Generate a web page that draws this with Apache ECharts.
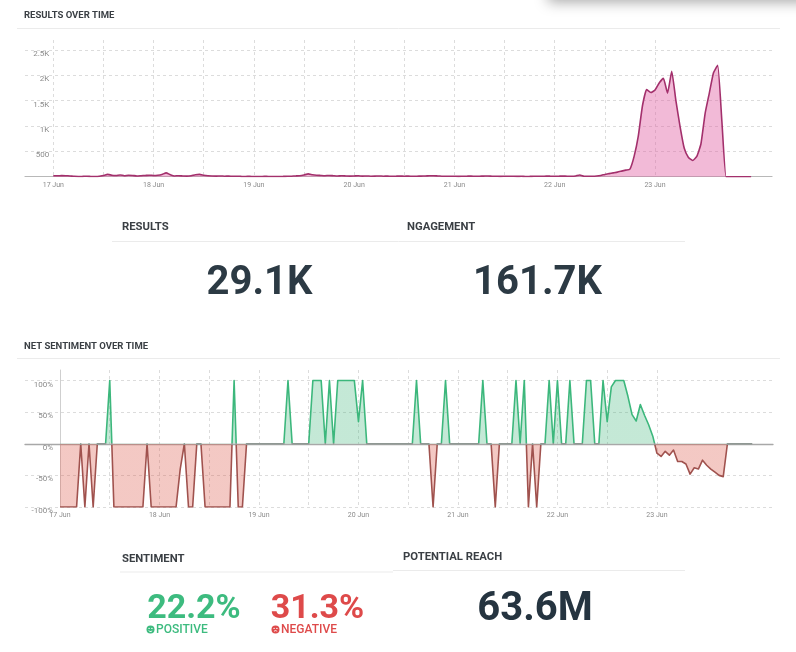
<!DOCTYPE html>
<html>
<head>
<meta charset="utf-8">
<script src="https://cdn.jsdelivr.net/npm/echarts@6/dist/echarts.min.js"></script>
<style>
html,body{margin:0;padding:0;background:#fff;}
#c{width:796px;height:652px;}
</style>
</head>
<body>
<div id="c"></div>
<script>
// ---- tick labels ----
const dayLabels = ['17 Jun', '18 Jun', '19 Jun', '20 Jun', '21 Jun', '22 Jun', '23 Jun'];
const resultsTickValues = [500, 1000, 1500, 2000, 2500];
const resultsTickLabels = ['500', '1K', '1.5K', '2K', '2.5K'];
const sentimentTickValues = [-100, -50, 0, 50, 100];
const sentimentTickLabels = ['-100%', '-50%', '0%', '50%', '100%'];

// ---- results over time (hourly counts) ----
const results17 = [20,18,22,20,15,8,5,6,10,5,4,8,25,45,30,25,35,20,30,25,15,20,25,30];
const results18 = [25,30,45,75,40,15,20,15,12,20,40,45,30,20,15,12,15,10,12,8,10,6,5,6];
const results19 = [4,5,5,6,4,5,5,6,8,10,15,20,35,55,40,30,25,20,25,20,15,18,15,12];
const results20 = [15,18,12,15,10,12,15,10,12,8,10,12,10,12,8,10,12,15,18,20,15,10,8,10];
const results21 = [8,6,8,10,12,8,10,12,15,10,8,6,8,10,8,6,8,5,6,8,10,8,12,10];
const results22 = [8,10,12,10,10,15,35,10,8,10,15,25,45,60,75,90,110,130,150,400,800,1400,1720,1660];
const results23 = [1710,1850,1940,1650,2080,1500,990,560,380,320,400,650,1250,1650,2050,2200,1100,0,0,0,0,0,0,0];

// ---- net sentiment over time (hourly %) ----
const sentiment17 = [-100,-100,-100,-100,-100,0,-100,0,-100,0,0,0,100,-100,-100,-100,-100,-100,-100,-100,-100,0,-100,-100];
const sentiment18 = [-100,-100,-100,-100,-100,-40,0,-100,-100,0,0,-100,-100,-100,-100,-100,-100,-100,100,-100,-100,0,0,0];
const sentiment19 = [0,0,0,0,0,0,0,100,0,0,0,0,0,100,100,100,0,100,0,100,100,100,100,100];
const sentiment20 = [35,100,0,0,0,0,0,0,0,0,0,0,0,0,100,0,0,0,-100,0,0,100,0,0];
const sentiment21 = [0,0,0,0,0,0,100,0,0,-100,0,0,0,0,100,0,100,-100,0,-100,0,0,100,0];
const sentiment22 = [100,0,0,100,0,0,0,100,100,0,0,100,35,90,100,100,100,75,46,36,62,45,30,12];
const sentiment23 = [-15,-20,-12,-18,-10,-28,-28,-32,-48,-38,-40,-26,-34,-40,-45,-50,-52,0,0,0,0,0,0,0];

// ---- KPI values ----
const kpiResults = '29.1K';
const kpiEngagement = '161.7K';
const kpiPositive = '22.2%';
const kpiNegative = '31.3%';
const kpiReach = '63.6M';

const results = [].concat(results17, results18, results19, results20, results21, results22, results23);
const sentiment = [].concat(sentiment17, sentiment18, sentiment19, sentiment20, sentiment21, sentiment22, sentiment23);
const resultsData = results.map((v, i) => [i, v]);
const sentimentData = sentiment.map((v, i) => [i, v]);

const FONT = 'Roboto, "Noto Sans", sans-serif';
const labelColor = '#8a8a8a';
const gridDash = { color: '#dcdcdc', type: [3, 3], width: 1 };

function dayFmt(v) { return (v % 24 === 0 && dayLabels[v / 24]) ? dayLabels[v / 24] : ''; }
function resFmt(v) { const i = resultsTickValues.indexOf(v); return i >= 0 ? resultsTickLabels[i] : ''; }
function senFmt(v) { const i = sentimentTickValues.indexOf(v); return i >= 0 ? sentimentTickLabels[i] : ''; }

const chart = echarts.init(document.getElementById('c'), null, { renderer: 'canvas' });

// plot geometry
const W = 796, H = 652;
const xMaxHours = 172, gridLinesEnd = 144;
const topLeft = 53.3, topRight = 24, botLeft = 60, botRight = 23;
const topBase = 176.7, topTop = 50, topAxisTop = 40;
const botBottom = 507, botTop = 380.5, botAxisTop = 370;
const topMax = 2500 * (topBase - topAxisTop) / (topBase - topTop);
const botMax = 200 * (botBottom - botAxisTop) / (botBottom - botTop) - 100;
const zeroY = botTop + (botBottom - botTop) / 2;
const topVRight = W - topLeft - (W - topLeft - topRight) * gridLinesEnd / xMaxHours;
const botVRight = W - botLeft - (W - botLeft - botRight) * gridLinesEnd / xMaxHours;

const G = echarts.graphic;
const lineGrad = new G.LinearGradient(0, zeroY - 50, 0, zeroY + 50, [
  { offset: 0, color: '#3cb77c' }, { offset: 0.488, color: '#3cb77c' },
  { offset: 0.488, color: '#8f9893' }, { offset: 0.512, color: '#8f9893' },
  { offset: 0.512, color: '#a0524e' }, { offset: 1, color: '#a0524e' }
], true);
const areaGrad = new G.LinearGradient(0, zeroY - 50, 0, zeroY + 50, [
  { offset: 0, color: 'rgba(60,180,120,0.30)' }, { offset: 0.5, color: 'rgba(60,180,120,0.30)' },
  { offset: 0.5, color: 'rgba(220,90,75,0.33)' }, { offset: 1, color: 'rgba(220,90,75,0.33)' }
], true);

function txt(x, y, text, size, color, weight, align) {
  return { type: 'text', x: x, y: y, silent: true, style: {
    text: text, fill: color, fontSize: size, fontWeight: weight || 'bold', fontFamily: FONT,
    align: align || 'left', verticalAlign: 'middle' } };
}
function hline(x1, x2, y, c) {
  return { type: 'line', silent: true, shape: { x1: x1, y1: y, x2: x2, y2: y }, style: { stroke: c || '#ebebeb', lineWidth: 1 } };
}
function face(cx, cy, color, happy) {
  return { type: 'group', x: cx, y: cy, silent: true, children: [
    { type: 'circle', shape: { cx: 0, cy: 0, r: 4 }, style: { fill: color } },
    { type: 'circle', shape: { cx: -1.4, cy: -1.1, r: 0.7 }, style: { fill: '#fff' } },
    { type: 'circle', shape: { cx: 1.4, cy: -1.1, r: 0.7 }, style: { fill: '#fff' } },
    happy
      ? { type: 'arc', shape: { cx: 0, cy: 0.2, r: 1.9, startAngle: 0.15 * Math.PI, endAngle: 0.85 * Math.PI }, style: { stroke: '#fff', lineWidth: 0.9, fill: 'none' } }
      : { type: 'arc', shape: { cx: 0, cy: 3.0, r: 1.9, startAngle: 1.2 * Math.PI, endAngle: 1.8 * Math.PI }, style: { stroke: '#fff', lineWidth: 0.9, fill: 'none' } }
  ] };
}
const hidden = { axisLine: { show: false }, axisTick: { show: false }, axisLabel: { show: false }, splitLine: { show: false } };

const option = {
  animation: false,
  backgroundColor: '#fff',
  textStyle: { fontFamily: FONT },
  grid: [
    { left: 25, right: topRight, top: topTop, bottom: H - topBase },
    { left: topLeft, right: topRight, top: topAxisTop, bottom: H - topBase },
    { left: 25, right: botRight, top: botTop, bottom: H - botBottom },
    { left: botLeft, right: botRight, top: botAxisTop, bottom: H - botBottom },
    { left: topLeft, right: topVRight, top: topAxisTop, bottom: H - topBase },
    { left: botLeft, right: botVRight, top: botAxisTop, bottom: H - botBottom }
  ],
  xAxis: [
    { gridIndex: 0, type: 'value', min: 0, max: 1, axisLine: { show: true, lineStyle: { color: '#b8b8b8', width: 1.2 } },
      axisTick: { show: false }, axisLabel: { show: false }, splitLine: { show: false } },
    { gridIndex: 1, type: 'value', min: 0, max: xMaxHours, interval: 12,
      axisLine: { show: false }, axisTick: { show: false },
      axisLabel: { formatter: dayFmt, fontSize: 7, color: labelColor, margin: 5, showMaxLabel: false, fontFamily: FONT },
      splitLine: { show: false } },
    { gridIndex: 2, type: 'value', min: 0, max: 1, axisLine: { show: true, onZero: true, lineStyle: { color: '#a8a8a8', width: 1.3 } },
      axisTick: { show: false }, axisLabel: { show: false }, splitLine: { show: false } },
    { gridIndex: 3, type: 'value', min: 0, max: xMaxHours, interval: 12,
      axisLine: { show: false }, axisTick: { show: false },
      axisLabel: { formatter: dayFmt, fontSize: 7, color: labelColor, margin: 5, showMaxLabel: false, fontFamily: FONT },
      splitLine: { show: false } },
    { gridIndex: 4, type: 'value', min: 0, max: gridLinesEnd, interval: 12,
      axisLine: { show: false }, axisTick: { show: false }, axisLabel: { show: false },
      splitLine: { show: true, lineStyle: gridDash } },
    { gridIndex: 5, type: 'value', min: 0, max: gridLinesEnd, interval: 12,
      axisLine: { show: false }, axisTick: { show: false }, axisLabel: { show: false },
      splitLine: { show: true, lineStyle: gridDash, showMinLine: false } }
  ],
  yAxis: [
    { gridIndex: 0, type: 'value', min: 0, max: 2500, interval: 500,
      axisLine: { show: false }, axisTick: { show: false }, axisLabel: { show: false },
      splitLine: { show: true, lineStyle: gridDash, showMinLine: false } },
    { gridIndex: 1, type: 'value', min: 0, max: topMax, interval: 500,
      axisLine: { show: false }, axisTick: { show: false },
      axisLabel: { formatter: resFmt, fontSize: 8, color: labelColor, margin: 4, showMinLabel: false, showMaxLabel: false, verticalAlign: 'top', fontFamily: FONT },
      splitLine: { show: false } },
    { gridIndex: 2, type: 'value', min: -100, max: 100, interval: 50,
      axisLine: { show: false }, axisTick: { show: false }, axisLabel: { show: false },
      splitLine: { show: true, lineStyle: gridDash } },
    { gridIndex: 3, type: 'value', min: -100, max: botMax, interval: 50,
      axisLine: { show: true, lineStyle: { color: '#cfcfcf', width: 1 } }, axisTick: { show: false },
      axisLabel: { formatter: senFmt, fontSize: 8, color: labelColor, margin: 7, showMaxLabel: false, verticalAlign: 'top', fontFamily: FONT },
      splitLine: { show: false } },
    Object.assign({ gridIndex: 4, type: 'value', min: 0, max: 1 }, hidden),
    Object.assign({ gridIndex: 5, type: 'value', min: 0, max: 1 }, hidden)
  ],
  series: [
    { name: 'Results', type: 'line', xAxisIndex: 1, yAxisIndex: 1, data: resultsData,
      showSymbol: false, smooth: 0.15, z: 3,
      lineStyle: { color: '#a3306c', width: 1.6 },
      areaStyle: { color: 'rgba(225,90,160,0.42)', opacity: 1 } },
    { name: 'Net sentiment', type: 'line', xAxisIndex: 3, yAxisIndex: 3, data: sentimentData,
      showSymbol: false, smooth: false, z: 3,
      lineStyle: { color: lineGrad, width: 1.6, join: 'round' },
      areaStyle: { color: areaGrad, opacity: 1 } }
  ],
  graphic: [
    { type: 'rect', silent: true, shape: { x: 548, y: -40, width: 270, height: 38 },
      style: { fill: '#fff', shadowBlur: 14, shadowColor: 'rgba(0,0,0,0.35)', shadowOffsetY: 4 } },
    txt(24, 16, 'RESULTS OVER TIME', 9.5, '#3a3f44'),
    hline(17, 780, 28.5),
    txt(24, 346.5, 'NET SENTIMENT OVER TIME', 9.5, '#3a3f44'),
    hline(17, 780, 358.5),
    txt(122, 227, 'RESULTS', 11.3, '#3a3f44'),
    txt(407, 227, 'NGAGEMENT', 11.3, '#3a3f44'),
    hline(112, 685, 241.5),
    txt(259.5, 284, kpiResults, 40, '#2c3a44', 'bold', 'center'),
    txt(537.5, 284, kpiEngagement, 40, '#2c3a44', 'bold', 'center'),
    txt(122, 559, 'SENTIMENT', 11.3, '#3a3f44'),
    hline(120, 393, 572),
    txt(403, 557.5, 'POTENTIAL REACH', 11.3, '#3a3f44'),
    hline(393, 685, 570.5),
    txt(194, 609, kpiPositive, 34, '#3dbb7f', 'bold', 'center'),
    txt(317.5, 609, kpiNegative, 34, '#de4a4a', 'bold', 'center'),
    txt(535, 609.5, kpiReach, 40, '#253440', 'bold', 'center'),
    face(150.5, 629.5, '#3dbb7f', true),
    txt(156, 630, 'POSITIVE', 12, '#3dbb7f', '500'),
    face(275.5, 629.5, '#de4a4a', false),
    txt(281, 630, 'NEGATIVE', 12, '#de4a4a', '500')
  ]
};

chart.setOption(option);
</script>
</body>
</html>
